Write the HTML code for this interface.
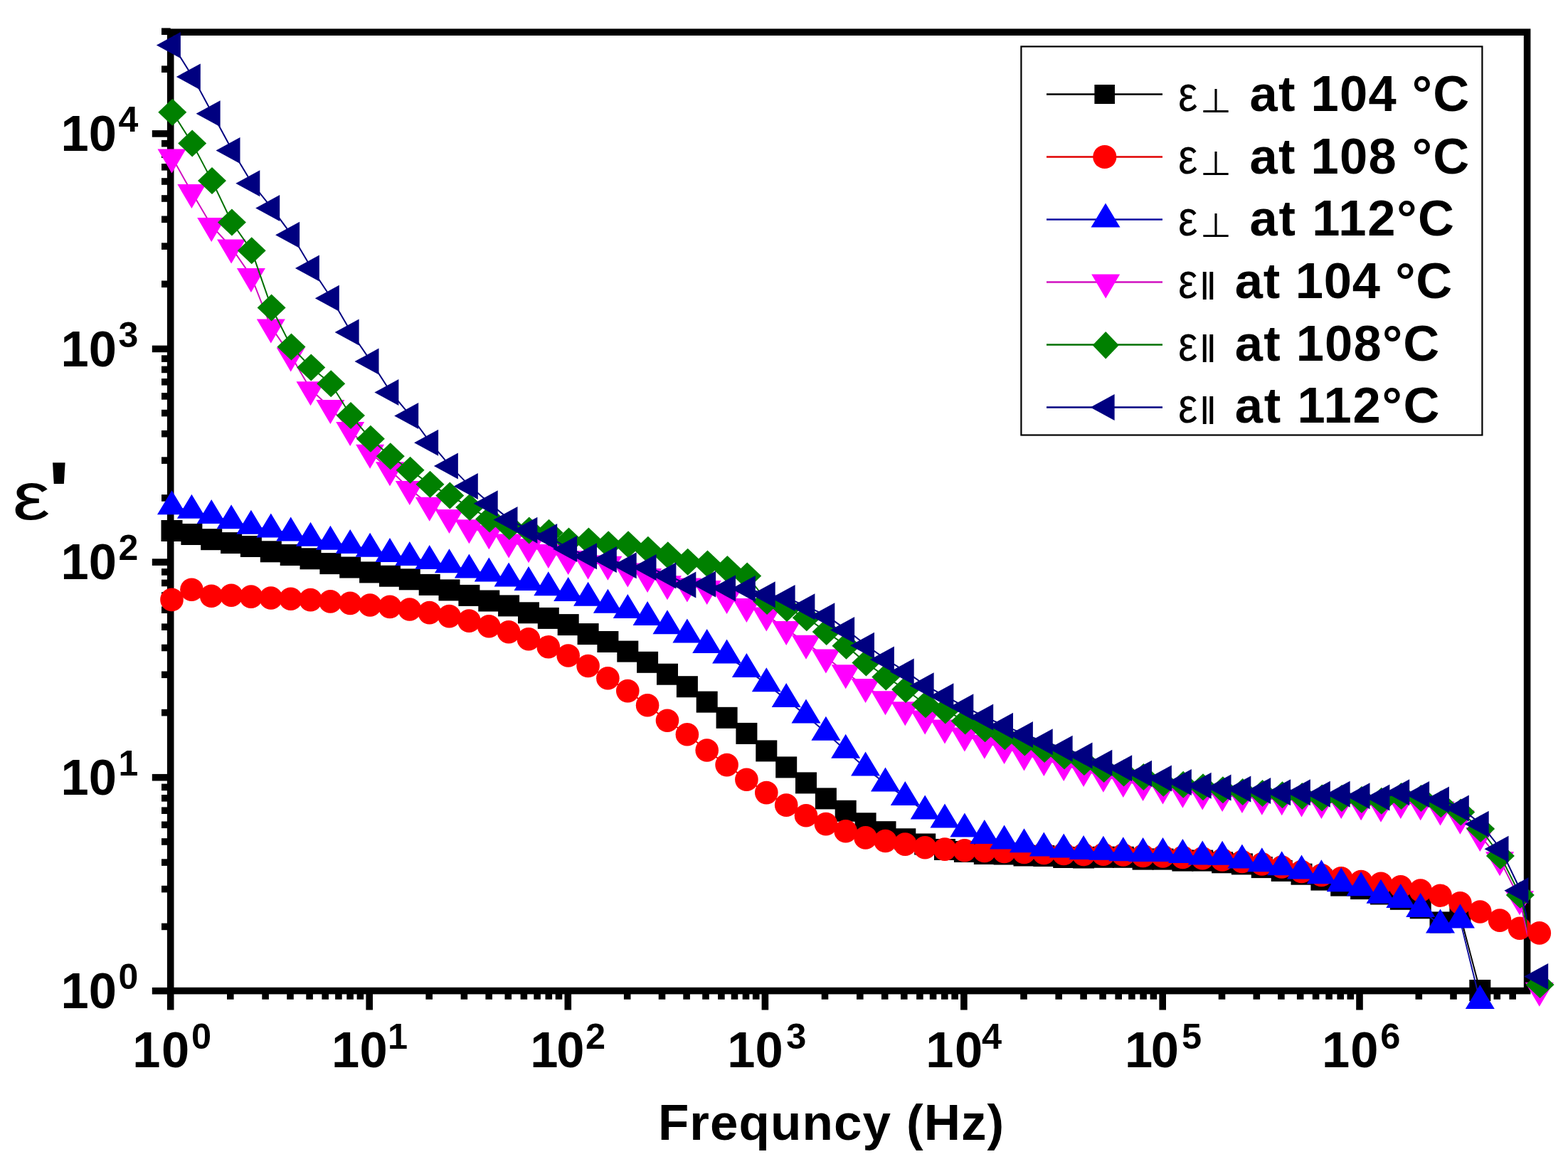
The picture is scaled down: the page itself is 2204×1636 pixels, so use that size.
<!DOCTYPE html><html><head><meta charset="utf-8"><title>Dielectric permittivity vs frequency</title><style>html,body{margin:0;padding:0;background:#fff;}svg{display:block}</style></head><body>
<svg width="2204" height="1636" viewBox="0 0 2204 1636">
<rect x="0" y="0" width="2204" height="1636" fill="#fff"/>
<defs><clipPath id="pc"><rect x="239.7" y="45.2" width="1906.9" height="1347.4"/></clipPath></defs>
<rect x="239.7" y="45.2" width="1906.9" height="1347.4" fill="none" stroke="#000" stroke-width="9.6" stroke-linejoin="miter"/>
<g stroke="#000" stroke-width="9.6" stroke-linecap="butt"><line x1="239.7" y1="1392.7" x2="213.8" y2="1392.7"/><line x1="239.7" y1="1302.4" x2="227" y2="1302.4" /><line x1="239.7" y1="1249.6" x2="227" y2="1249.6" /><line x1="239.7" y1="1212.1" x2="227" y2="1212.1" /><line x1="239.7" y1="1183.0" x2="227" y2="1183.0" /><line x1="239.7" y1="1159.3" x2="227" y2="1159.3" /><line x1="239.7" y1="1139.2" x2="227" y2="1139.2" /><line x1="239.7" y1="1121.8" x2="227" y2="1121.8" /><line x1="239.7" y1="1106.4" x2="227" y2="1106.4" /><line x1="239.7" y1="1092.7" x2="213.8" y2="1092.7"/><line x1="239.7" y1="1001.6" x2="227" y2="1001.6" /><line x1="239.7" y1="948.3" x2="227" y2="948.3" /><line x1="239.7" y1="910.5" x2="227" y2="910.5" /><line x1="239.7" y1="881.2" x2="227" y2="881.2" /><line x1="239.7" y1="857.2" x2="227" y2="857.2" /><line x1="239.7" y1="837.0" x2="227" y2="837.0" /><line x1="239.7" y1="819.4" x2="227" y2="819.4" /><line x1="239.7" y1="803.9" x2="227" y2="803.9" /><line x1="239.7" y1="790.1" x2="213.8" y2="790.1"/><line x1="239.7" y1="699.9" x2="227" y2="699.9" /><line x1="239.7" y1="647.1" x2="227" y2="647.1" /><line x1="239.7" y1="609.7" x2="227" y2="609.7" /><line x1="239.7" y1="580.6" x2="227" y2="580.6" /><line x1="239.7" y1="556.9" x2="227" y2="556.9" /><line x1="239.7" y1="536.8" x2="227" y2="536.8" /><line x1="239.7" y1="519.4" x2="227" y2="519.4" /><line x1="239.7" y1="504.1" x2="227" y2="504.1" /><line x1="239.7" y1="490.4" x2="213.8" y2="490.4"/><line x1="239.7" y1="399.3" x2="227" y2="399.3" /><line x1="239.7" y1="346.1" x2="227" y2="346.1" /><line x1="239.7" y1="308.3" x2="227" y2="308.3" /><line x1="239.7" y1="279.0" x2="227" y2="279.0" /><line x1="239.7" y1="255.0" x2="227" y2="255.0" /><line x1="239.7" y1="234.8" x2="227" y2="234.8" /><line x1="239.7" y1="217.2" x2="227" y2="217.2" /><line x1="239.7" y1="201.7" x2="227" y2="201.7" /><line x1="239.7" y1="187.9" x2="213.8" y2="187.9"/><line x1="239.7" y1="97.2" x2="227" y2="97.2" /><line x1="239.7" y1="44.2" x2="227" y2="44.2" /><line x1="239.7" y1="1392.6" x2="239.7" y2="1419.5"/><line x1="323.8" y1="1392.6" x2="323.8" y2="1404.7"/><line x1="373.1" y1="1392.6" x2="373.1" y2="1404.7"/><line x1="408.0" y1="1392.6" x2="408.0" y2="1404.7"/><line x1="435.1" y1="1392.6" x2="435.1" y2="1404.7"/><line x1="457.2" y1="1392.6" x2="457.2" y2="1404.7"/><line x1="475.9" y1="1392.6" x2="475.9" y2="1404.7"/><line x1="492.1" y1="1392.6" x2="492.1" y2="1404.7"/><line x1="506.4" y1="1392.6" x2="506.4" y2="1404.7"/><line x1="519.2" y1="1392.6" x2="519.2" y2="1419.5"/><line x1="603.2" y1="1392.6" x2="603.2" y2="1404.7"/><line x1="652.4" y1="1392.6" x2="652.4" y2="1404.7"/><line x1="687.2" y1="1392.6" x2="687.2" y2="1404.7"/><line x1="714.3" y1="1392.6" x2="714.3" y2="1404.7"/><line x1="736.4" y1="1392.6" x2="736.4" y2="1404.7"/><line x1="755.1" y1="1392.6" x2="755.1" y2="1404.7"/><line x1="771.3" y1="1392.6" x2="771.3" y2="1404.7"/><line x1="785.5" y1="1392.6" x2="785.5" y2="1404.7"/><line x1="798.3" y1="1392.6" x2="798.3" y2="1419.5"/><line x1="881.7" y1="1392.6" x2="881.7" y2="1404.7"/><line x1="930.5" y1="1392.6" x2="930.5" y2="1404.7"/><line x1="965.1" y1="1392.6" x2="965.1" y2="1404.7"/><line x1="992.0" y1="1392.6" x2="992.0" y2="1404.7"/><line x1="1013.9" y1="1392.6" x2="1013.9" y2="1404.7"/><line x1="1032.5" y1="1392.6" x2="1032.5" y2="1404.7"/><line x1="1048.5" y1="1392.6" x2="1048.5" y2="1404.7"/><line x1="1062.7" y1="1392.6" x2="1062.7" y2="1404.7"/><line x1="1075.4" y1="1392.6" x2="1075.4" y2="1419.5"/><line x1="1159.5" y1="1392.6" x2="1159.5" y2="1404.7"/><line x1="1208.8" y1="1392.6" x2="1208.8" y2="1404.7"/><line x1="1243.7" y1="1392.6" x2="1243.7" y2="1404.7"/><line x1="1270.8" y1="1392.6" x2="1270.8" y2="1404.7"/><line x1="1292.9" y1="1392.6" x2="1292.9" y2="1404.7"/><line x1="1311.6" y1="1392.6" x2="1311.6" y2="1404.7"/><line x1="1327.8" y1="1392.6" x2="1327.8" y2="1404.7"/><line x1="1342.1" y1="1392.6" x2="1342.1" y2="1404.7"/><line x1="1354.9" y1="1392.6" x2="1354.9" y2="1419.5"/><line x1="1439.0" y1="1392.6" x2="1439.0" y2="1404.7"/><line x1="1488.2" y1="1392.6" x2="1488.2" y2="1404.7"/><line x1="1523.1" y1="1392.6" x2="1523.1" y2="1404.7"/><line x1="1550.1" y1="1392.6" x2="1550.1" y2="1404.7"/><line x1="1572.2" y1="1392.6" x2="1572.2" y2="1404.7"/><line x1="1590.9" y1="1392.6" x2="1590.9" y2="1404.7"/><line x1="1607.1" y1="1392.6" x2="1607.1" y2="1404.7"/><line x1="1621.4" y1="1392.6" x2="1621.4" y2="1404.7"/><line x1="1634.2" y1="1392.6" x2="1634.2" y2="1419.5"/><line x1="1717.5" y1="1392.6" x2="1717.5" y2="1404.7"/><line x1="1766.3" y1="1392.6" x2="1766.3" y2="1404.7"/><line x1="1800.9" y1="1392.6" x2="1800.9" y2="1404.7"/><line x1="1827.7" y1="1392.6" x2="1827.7" y2="1404.7"/><line x1="1849.6" y1="1392.6" x2="1849.6" y2="1404.7"/><line x1="1868.1" y1="1392.6" x2="1868.1" y2="1404.7"/><line x1="1884.2" y1="1392.6" x2="1884.2" y2="1404.7"/><line x1="1898.3" y1="1392.6" x2="1898.3" y2="1404.7"/><line x1="1911.0" y1="1392.6" x2="1911.0" y2="1419.5"/><line x1="1994.3" y1="1392.6" x2="1994.3" y2="1404.7"/><line x1="2043.0" y1="1392.6" x2="2043.0" y2="1404.7"/><line x1="2077.5" y1="1392.6" x2="2077.5" y2="1404.7"/><line x1="2104.3" y1="1392.6" x2="2104.3" y2="1404.7"/><line x1="2126.2" y1="1392.6" x2="2126.2" y2="1404.7"/></g>
<polyline clip-path="url(#pc)" fill="none" stroke="#000000" stroke-width="2.0" points="241.5,746.0 269.4,751.0 297.2,758.2 325.1,763.1 352.9,768.0 380.8,775.3 408.7,780.0 436.5,785.3 464.4,792.1 492.2,797.5 520.1,804.4 548.0,809.7 575.8,814.3 603.7,821.9 631.5,829.4 659.4,836.9 687.3,844.5 715.1,851.4 743.0,861.3 770.8,868.9 798.7,878.1 826.6,891.1 854.4,902.0 882.3,915.6 910.1,930.8 938.0,947.7 965.9,965.2 993.7,986.6 1021.6,1008.8 1049.4,1030.9 1077.3,1055.4 1105.2,1078.4 1133.0,1100.4 1160.9,1122.4 1188.7,1139.8 1216.6,1157.3 1244.5,1169.2 1272.3,1179.3 1300.2,1186.5 1328.0,1194.0 1355.9,1197.0 1383.8,1200.0 1411.6,1200.5 1439.5,1202.5 1467.3,1203.0 1495.2,1205.0 1523.1,1205.5 1550.9,1204.8 1578.8,1204.8 1606.6,1207.6 1634.5,1207.6 1662.4,1209.6 1690.2,1209.6 1718.1,1212.3 1745.9,1214.4 1773.8,1219.1 1801.7,1223.9 1829.5,1228.7 1857.4,1236.6 1885.2,1244.6 1913.1,1249.1 1941.0,1256.5 1968.8,1263.8 1996.7,1276.3 2024.5,1296.4 2052.4,1286.0 2080.3,1392.0"/>
<g><rect x="226.5" y="731.0" width="30" height="30" fill="#000000"/><rect x="254.4" y="736.0" width="30" height="30" fill="#000000"/><rect x="282.2" y="743.2" width="30" height="30" fill="#000000"/><rect x="310.1" y="748.1" width="30" height="30" fill="#000000"/><rect x="337.9" y="753.0" width="30" height="30" fill="#000000"/><rect x="365.8" y="760.3" width="30" height="30" fill="#000000"/><rect x="393.7" y="765.0" width="30" height="30" fill="#000000"/><rect x="421.5" y="770.3" width="30" height="30" fill="#000000"/><rect x="449.4" y="777.1" width="30" height="30" fill="#000000"/><rect x="477.2" y="782.5" width="30" height="30" fill="#000000"/><rect x="505.1" y="789.4" width="30" height="30" fill="#000000"/><rect x="533.0" y="794.7" width="30" height="30" fill="#000000"/><rect x="560.8" y="799.3" width="30" height="30" fill="#000000"/><rect x="588.7" y="806.9" width="30" height="30" fill="#000000"/><rect x="616.5" y="814.4" width="30" height="30" fill="#000000"/><rect x="644.4" y="821.9" width="30" height="30" fill="#000000"/><rect x="672.3" y="829.5" width="30" height="30" fill="#000000"/><rect x="700.1" y="836.4" width="30" height="30" fill="#000000"/><rect x="728.0" y="846.3" width="30" height="30" fill="#000000"/><rect x="755.8" y="853.9" width="30" height="30" fill="#000000"/><rect x="783.7" y="863.1" width="30" height="30" fill="#000000"/><rect x="811.6" y="876.1" width="30" height="30" fill="#000000"/><rect x="839.4" y="887.0" width="30" height="30" fill="#000000"/><rect x="867.3" y="900.6" width="30" height="30" fill="#000000"/><rect x="895.1" y="915.8" width="30" height="30" fill="#000000"/><rect x="923.0" y="932.7" width="30" height="30" fill="#000000"/><rect x="950.9" y="950.2" width="30" height="30" fill="#000000"/><rect x="978.7" y="971.6" width="30" height="30" fill="#000000"/><rect x="1006.6" y="993.8" width="30" height="30" fill="#000000"/><rect x="1034.4" y="1015.9" width="30" height="30" fill="#000000"/><rect x="1062.3" y="1040.4" width="30" height="30" fill="#000000"/><rect x="1090.2" y="1063.4" width="30" height="30" fill="#000000"/><rect x="1118.0" y="1085.4" width="30" height="30" fill="#000000"/><rect x="1145.9" y="1107.4" width="30" height="30" fill="#000000"/><rect x="1173.7" y="1124.8" width="30" height="30" fill="#000000"/><rect x="1201.6" y="1142.3" width="30" height="30" fill="#000000"/><rect x="1229.5" y="1154.2" width="30" height="30" fill="#000000"/><rect x="1257.3" y="1164.3" width="30" height="30" fill="#000000"/><rect x="1285.2" y="1171.5" width="30" height="30" fill="#000000"/><rect x="1313.0" y="1179.0" width="30" height="30" fill="#000000"/><rect x="1340.9" y="1182.0" width="30" height="30" fill="#000000"/><rect x="1368.8" y="1185.0" width="30" height="30" fill="#000000"/><rect x="1396.6" y="1185.5" width="30" height="30" fill="#000000"/><rect x="1424.5" y="1187.5" width="30" height="30" fill="#000000"/><rect x="1452.3" y="1188.0" width="30" height="30" fill="#000000"/><rect x="1480.2" y="1190.0" width="30" height="30" fill="#000000"/><rect x="1508.1" y="1190.5" width="30" height="30" fill="#000000"/><rect x="1535.9" y="1189.8" width="30" height="30" fill="#000000"/><rect x="1563.8" y="1189.8" width="30" height="30" fill="#000000"/><rect x="1591.6" y="1192.6" width="30" height="30" fill="#000000"/><rect x="1619.5" y="1192.6" width="30" height="30" fill="#000000"/><rect x="1647.4" y="1194.6" width="30" height="30" fill="#000000"/><rect x="1675.2" y="1194.6" width="30" height="30" fill="#000000"/><rect x="1703.1" y="1197.3" width="30" height="30" fill="#000000"/><rect x="1730.9" y="1199.4" width="30" height="30" fill="#000000"/><rect x="1758.8" y="1204.1" width="30" height="30" fill="#000000"/><rect x="1786.7" y="1208.9" width="30" height="30" fill="#000000"/><rect x="1814.5" y="1213.7" width="30" height="30" fill="#000000"/><rect x="1842.4" y="1221.6" width="30" height="30" fill="#000000"/><rect x="1870.2" y="1229.6" width="30" height="30" fill="#000000"/><rect x="1898.1" y="1234.1" width="30" height="30" fill="#000000"/><rect x="1926.0" y="1241.5" width="30" height="30" fill="#000000"/><rect x="1953.8" y="1248.8" width="30" height="30" fill="#000000"/><rect x="1981.7" y="1261.3" width="30" height="30" fill="#000000"/><rect x="2009.5" y="1281.4" width="30" height="30" fill="#000000"/><rect x="2037.4" y="1271.0" width="30" height="30" fill="#000000"/><rect x="2065.3" y="1377.0" width="30" height="30" fill="#000000"/></g>
<polyline clip-path="url(#pc)" fill="none" stroke="#e00000" stroke-width="2.0" points="241.5,842.9 269.4,828.8 297.2,837.7 325.1,836.8 352.9,838.6 380.8,840.5 408.7,841.8 436.5,843.1 464.4,845.4 492.2,847.9 520.1,850.5 548.0,852.9 575.8,856.5 603.7,861.1 631.5,866.1 659.4,872.6 687.3,880.2 715.1,888.2 743.0,898.2 770.8,909.2 798.7,921.5 826.6,936.0 854.4,953.3 882.3,971.1 910.1,991.3 938.0,1012.7 965.9,1032.3 993.7,1054.5 1021.6,1075.1 1049.4,1095.8 1077.3,1114.1 1105.2,1131.6 1133.0,1146.3 1160.9,1158.1 1188.7,1168.2 1216.6,1177.4 1244.5,1182.0 1272.3,1186.6 1300.2,1191.2 1328.0,1193.6 1355.9,1195.2 1383.8,1196.0 1411.6,1197.0 1439.5,1198.0 1467.3,1199.0 1495.2,1200.0 1523.1,1201.0 1550.9,1200.8 1578.8,1201.5 1606.6,1202.9 1634.5,1203.5 1662.4,1204.9 1690.2,1206.3 1718.1,1208.4 1745.9,1211.0 1773.8,1214.4 1801.7,1218.5 1829.5,1225.0 1857.4,1230.0 1885.2,1234.4 1913.1,1239.0 1941.0,1241.8 1968.8,1246.3 1996.7,1251.6 2024.5,1258.7 2052.4,1269.2 2080.3,1281.5 2108.1,1293.6 2136.0,1304.7 2163.8,1311.4"/>
<g><circle cx="241.5" cy="842.9" r="16.3" fill="#ff0000"/><circle cx="269.4" cy="828.8" r="16.3" fill="#ff0000"/><circle cx="297.2" cy="837.7" r="16.3" fill="#ff0000"/><circle cx="325.1" cy="836.8" r="16.3" fill="#ff0000"/><circle cx="352.9" cy="838.6" r="16.3" fill="#ff0000"/><circle cx="380.8" cy="840.5" r="16.3" fill="#ff0000"/><circle cx="408.7" cy="841.8" r="16.3" fill="#ff0000"/><circle cx="436.5" cy="843.1" r="16.3" fill="#ff0000"/><circle cx="464.4" cy="845.4" r="16.3" fill="#ff0000"/><circle cx="492.2" cy="847.9" r="16.3" fill="#ff0000"/><circle cx="520.1" cy="850.5" r="16.3" fill="#ff0000"/><circle cx="548.0" cy="852.9" r="16.3" fill="#ff0000"/><circle cx="575.8" cy="856.5" r="16.3" fill="#ff0000"/><circle cx="603.7" cy="861.1" r="16.3" fill="#ff0000"/><circle cx="631.5" cy="866.1" r="16.3" fill="#ff0000"/><circle cx="659.4" cy="872.6" r="16.3" fill="#ff0000"/><circle cx="687.3" cy="880.2" r="16.3" fill="#ff0000"/><circle cx="715.1" cy="888.2" r="16.3" fill="#ff0000"/><circle cx="743.0" cy="898.2" r="16.3" fill="#ff0000"/><circle cx="770.8" cy="909.2" r="16.3" fill="#ff0000"/><circle cx="798.7" cy="921.5" r="16.3" fill="#ff0000"/><circle cx="826.6" cy="936.0" r="16.3" fill="#ff0000"/><circle cx="854.4" cy="953.3" r="16.3" fill="#ff0000"/><circle cx="882.3" cy="971.1" r="16.3" fill="#ff0000"/><circle cx="910.1" cy="991.3" r="16.3" fill="#ff0000"/><circle cx="938.0" cy="1012.7" r="16.3" fill="#ff0000"/><circle cx="965.9" cy="1032.3" r="16.3" fill="#ff0000"/><circle cx="993.7" cy="1054.5" r="16.3" fill="#ff0000"/><circle cx="1021.6" cy="1075.1" r="16.3" fill="#ff0000"/><circle cx="1049.4" cy="1095.8" r="16.3" fill="#ff0000"/><circle cx="1077.3" cy="1114.1" r="16.3" fill="#ff0000"/><circle cx="1105.2" cy="1131.6" r="16.3" fill="#ff0000"/><circle cx="1133.0" cy="1146.3" r="16.3" fill="#ff0000"/><circle cx="1160.9" cy="1158.1" r="16.3" fill="#ff0000"/><circle cx="1188.7" cy="1168.2" r="16.3" fill="#ff0000"/><circle cx="1216.6" cy="1177.4" r="16.3" fill="#ff0000"/><circle cx="1244.5" cy="1182.0" r="16.3" fill="#ff0000"/><circle cx="1272.3" cy="1186.6" r="16.3" fill="#ff0000"/><circle cx="1300.2" cy="1191.2" r="16.3" fill="#ff0000"/><circle cx="1328.0" cy="1193.6" r="16.3" fill="#ff0000"/><circle cx="1355.9" cy="1195.2" r="16.3" fill="#ff0000"/><circle cx="1383.8" cy="1196.0" r="16.3" fill="#ff0000"/><circle cx="1411.6" cy="1197.0" r="16.3" fill="#ff0000"/><circle cx="1439.5" cy="1198.0" r="16.3" fill="#ff0000"/><circle cx="1467.3" cy="1199.0" r="16.3" fill="#ff0000"/><circle cx="1495.2" cy="1200.0" r="16.3" fill="#ff0000"/><circle cx="1523.1" cy="1201.0" r="16.3" fill="#ff0000"/><circle cx="1550.9" cy="1200.8" r="16.3" fill="#ff0000"/><circle cx="1578.8" cy="1201.5" r="16.3" fill="#ff0000"/><circle cx="1606.6" cy="1202.9" r="16.3" fill="#ff0000"/><circle cx="1634.5" cy="1203.5" r="16.3" fill="#ff0000"/><circle cx="1662.4" cy="1204.9" r="16.3" fill="#ff0000"/><circle cx="1690.2" cy="1206.3" r="16.3" fill="#ff0000"/><circle cx="1718.1" cy="1208.4" r="16.3" fill="#ff0000"/><circle cx="1745.9" cy="1211.0" r="16.3" fill="#ff0000"/><circle cx="1773.8" cy="1214.4" r="16.3" fill="#ff0000"/><circle cx="1801.7" cy="1218.5" r="16.3" fill="#ff0000"/><circle cx="1829.5" cy="1225.0" r="16.3" fill="#ff0000"/><circle cx="1857.4" cy="1230.0" r="16.3" fill="#ff0000"/><circle cx="1885.2" cy="1234.4" r="16.3" fill="#ff0000"/><circle cx="1913.1" cy="1239.0" r="16.3" fill="#ff0000"/><circle cx="1941.0" cy="1241.8" r="16.3" fill="#ff0000"/><circle cx="1968.8" cy="1246.3" r="16.3" fill="#ff0000"/><circle cx="1996.7" cy="1251.6" r="16.3" fill="#ff0000"/><circle cx="2024.5" cy="1258.7" r="16.3" fill="#ff0000"/><circle cx="2052.4" cy="1269.2" r="16.3" fill="#ff0000"/><circle cx="2080.3" cy="1281.5" r="16.3" fill="#ff0000"/><circle cx="2108.1" cy="1293.6" r="16.3" fill="#ff0000"/><circle cx="2136.0" cy="1304.7" r="16.3" fill="#ff0000"/><circle cx="2163.8" cy="1311.4" r="16.3" fill="#ff0000"/></g>
<polyline clip-path="url(#pc)" fill="none" stroke="#1010a0" stroke-width="2.0" points="241.5,712.2 269.4,717.7 297.2,725.0 325.1,732.3 352.9,739.7 380.8,744.6 408.7,749.5 436.5,756.8 464.4,761.8 492.2,766.9 520.1,771.8 548.0,779.0 575.8,784.0 603.7,788.9 631.5,794.2 659.4,801.4 687.3,806.5 715.1,813.6 743.0,819.1 770.8,826.2 798.7,834.0 826.6,840.8 854.4,850.7 882.3,858.1 910.1,868.1 938.0,880.3 965.9,892.5 993.7,907.0 1021.6,921.6 1049.4,941.1 1077.3,961.3 1105.2,983.1 1133.0,1005.5 1160.9,1029.8 1188.7,1054.7 1216.6,1079.4 1244.5,1101.4 1272.3,1121.0 1300.2,1140.4 1328.0,1152.6 1355.9,1165.6 1383.8,1175.1 1411.6,1182.6 1439.5,1187.3 1467.3,1192.5 1495.2,1194.4 1523.1,1197.1 1550.9,1197.7 1578.8,1199.3 1606.6,1200.0 1634.5,1200.0 1662.4,1202.0 1690.2,1204.4 1718.1,1204.7 1745.9,1209.5 1773.8,1214.3 1801.7,1219.2 1829.5,1224.5 1857.4,1231.3 1885.2,1242.2 1913.1,1248.3 1941.0,1258.7 1968.8,1265.1 1996.7,1278.0 2024.5,1300.4 2052.4,1293.6 2080.3,1407.0"/>
<g><polygon points="241.5,689.2 262.0,723.2 221.0,723.2" fill="#0000ff"/><polygon points="269.4,694.7 289.9,728.7 248.9,728.7" fill="#0000ff"/><polygon points="297.2,702.0 317.7,736.0 276.7,736.0" fill="#0000ff"/><polygon points="325.1,709.3 345.6,743.3 304.6,743.3" fill="#0000ff"/><polygon points="352.9,716.7 373.4,750.7 332.4,750.7" fill="#0000ff"/><polygon points="380.8,721.6 401.3,755.6 360.3,755.6" fill="#0000ff"/><polygon points="408.7,726.5 429.2,760.5 388.2,760.5" fill="#0000ff"/><polygon points="436.5,733.8 457.0,767.8 416.0,767.8" fill="#0000ff"/><polygon points="464.4,738.8 484.9,772.8 443.9,772.8" fill="#0000ff"/><polygon points="492.2,743.9 512.7,777.9 471.7,777.9" fill="#0000ff"/><polygon points="520.1,748.8 540.6,782.8 499.6,782.8" fill="#0000ff"/><polygon points="548.0,756.0 568.5,790.0 527.5,790.0" fill="#0000ff"/><polygon points="575.8,761.0 596.3,795.0 555.3,795.0" fill="#0000ff"/><polygon points="603.7,765.9 624.2,799.9 583.2,799.9" fill="#0000ff"/><polygon points="631.5,771.2 652.0,805.2 611.0,805.2" fill="#0000ff"/><polygon points="659.4,778.4 679.9,812.4 638.9,812.4" fill="#0000ff"/><polygon points="687.3,783.5 707.8,817.5 666.8,817.5" fill="#0000ff"/><polygon points="715.1,790.6 735.6,824.6 694.6,824.6" fill="#0000ff"/><polygon points="743.0,796.1 763.5,830.1 722.5,830.1" fill="#0000ff"/><polygon points="770.8,803.2 791.3,837.2 750.3,837.2" fill="#0000ff"/><polygon points="798.7,811.0 819.2,845.0 778.2,845.0" fill="#0000ff"/><polygon points="826.6,817.8 847.1,851.8 806.1,851.8" fill="#0000ff"/><polygon points="854.4,827.7 874.9,861.7 833.9,861.7" fill="#0000ff"/><polygon points="882.3,835.1 902.8,869.1 861.8,869.1" fill="#0000ff"/><polygon points="910.1,845.1 930.6,879.1 889.6,879.1" fill="#0000ff"/><polygon points="938.0,857.3 958.5,891.3 917.5,891.3" fill="#0000ff"/><polygon points="965.9,869.5 986.4,903.5 945.4,903.5" fill="#0000ff"/><polygon points="993.7,884.0 1014.2,918.0 973.2,918.0" fill="#0000ff"/><polygon points="1021.6,898.6 1042.1,932.6 1001.1,932.6" fill="#0000ff"/><polygon points="1049.4,918.1 1069.9,952.1 1028.9,952.1" fill="#0000ff"/><polygon points="1077.3,938.3 1097.8,972.3 1056.8,972.3" fill="#0000ff"/><polygon points="1105.2,960.1 1125.7,994.1 1084.7,994.1" fill="#0000ff"/><polygon points="1133.0,982.5 1153.5,1016.5 1112.5,1016.5" fill="#0000ff"/><polygon points="1160.9,1006.8 1181.4,1040.8 1140.4,1040.8" fill="#0000ff"/><polygon points="1188.7,1031.7 1209.2,1065.7 1168.2,1065.7" fill="#0000ff"/><polygon points="1216.6,1056.4 1237.1,1090.4 1196.1,1090.4" fill="#0000ff"/><polygon points="1244.5,1078.4 1265.0,1112.4 1224.0,1112.4" fill="#0000ff"/><polygon points="1272.3,1098.0 1292.8,1132.0 1251.8,1132.0" fill="#0000ff"/><polygon points="1300.2,1117.4 1320.7,1151.4 1279.7,1151.4" fill="#0000ff"/><polygon points="1328.0,1129.6 1348.5,1163.6 1307.5,1163.6" fill="#0000ff"/><polygon points="1355.9,1142.6 1376.4,1176.6 1335.4,1176.6" fill="#0000ff"/><polygon points="1383.8,1152.1 1404.3,1186.1 1363.3,1186.1" fill="#0000ff"/><polygon points="1411.6,1159.6 1432.1,1193.6 1391.1,1193.6" fill="#0000ff"/><polygon points="1439.5,1164.3 1460.0,1198.3 1419.0,1198.3" fill="#0000ff"/><polygon points="1467.3,1169.5 1487.8,1203.5 1446.8,1203.5" fill="#0000ff"/><polygon points="1495.2,1171.4 1515.7,1205.4 1474.7,1205.4" fill="#0000ff"/><polygon points="1523.1,1174.1 1543.6,1208.1 1502.6,1208.1" fill="#0000ff"/><polygon points="1550.9,1174.7 1571.4,1208.7 1530.4,1208.7" fill="#0000ff"/><polygon points="1578.8,1176.3 1599.3,1210.3 1558.3,1210.3" fill="#0000ff"/><polygon points="1606.6,1177.0 1627.1,1211.0 1586.1,1211.0" fill="#0000ff"/><polygon points="1634.5,1177.0 1655.0,1211.0 1614.0,1211.0" fill="#0000ff"/><polygon points="1662.4,1179.0 1682.9,1213.0 1641.9,1213.0" fill="#0000ff"/><polygon points="1690.2,1181.4 1710.7,1215.4 1669.7,1215.4" fill="#0000ff"/><polygon points="1718.1,1181.7 1738.6,1215.7 1697.6,1215.7" fill="#0000ff"/><polygon points="1745.9,1186.5 1766.4,1220.5 1725.4,1220.5" fill="#0000ff"/><polygon points="1773.8,1191.3 1794.3,1225.3 1753.3,1225.3" fill="#0000ff"/><polygon points="1801.7,1196.2 1822.2,1230.2 1781.2,1230.2" fill="#0000ff"/><polygon points="1829.5,1201.5 1850.0,1235.5 1809.0,1235.5" fill="#0000ff"/><polygon points="1857.4,1208.3 1877.9,1242.3 1836.9,1242.3" fill="#0000ff"/><polygon points="1885.2,1219.2 1905.7,1253.2 1864.7,1253.2" fill="#0000ff"/><polygon points="1913.1,1225.3 1933.6,1259.3 1892.6,1259.3" fill="#0000ff"/><polygon points="1941.0,1235.7 1961.5,1269.7 1920.5,1269.7" fill="#0000ff"/><polygon points="1968.8,1242.1 1989.3,1276.1 1948.3,1276.1" fill="#0000ff"/><polygon points="1996.7,1255.0 2017.2,1289.0 1976.2,1289.0" fill="#0000ff"/><polygon points="2024.5,1277.4 2045.0,1311.4 2004.0,1311.4" fill="#0000ff"/><polygon points="2052.4,1270.6 2072.9,1304.6 2031.9,1304.6" fill="#0000ff"/><polygon points="2080.3,1384.0 2100.8,1418.0 2059.8,1418.0" fill="#0000ff"/></g>
<polyline clip-path="url(#pc)" fill="none" stroke="#d010c0" stroke-width="2.0" points="241.5,220.6 269.4,270.1 297.2,316.9 325.1,347.6 352.9,387.9 380.8,459.4 408.7,499.4 436.5,547.2 464.4,573.0 492.2,604.0 520.1,635.8 548.0,660.2 575.8,687.1 603.7,709.7 631.5,726.9 659.4,741.3 687.3,749.3 715.1,761.5 743.0,768.2 770.8,775.9 798.7,785.0 826.6,791.6 854.4,792.8 882.3,802.5 910.1,810.1 938.0,820.2 965.9,823.4 993.7,827.0 1021.6,840.0 1049.4,852.0 1077.3,864.6 1105.2,884.1 1133.0,903.8 1160.9,923.5 1188.7,945.3 1216.6,965.0 1244.5,982.2 1272.3,997.2 1300.2,1009.4 1328.0,1022.4 1355.9,1033.5 1383.8,1043.7 1411.6,1050.9 1439.5,1060.4 1467.3,1067.9 1495.2,1075.0 1523.1,1083.0 1550.9,1090.7 1578.8,1098.1 1606.6,1102.9 1634.5,1107.6 1662.4,1112.8 1690.2,1115.5 1718.1,1117.9 1745.9,1119.9 1773.8,1122.8 1801.7,1123.2 1829.5,1125.4 1857.4,1127.9 1885.2,1127.9 1913.1,1130.3 1941.0,1132.8 1968.8,1127.9 1996.7,1130.3 2024.5,1137.6 2052.4,1149.7 2080.3,1173.9 2108.1,1208.2 2136.0,1263.3 2163.8,1391.7"/>
<g><polygon points="221.5,209.6 261.5,209.6 241.5,243.6" fill="#ff00ff"/><polygon points="249.4,259.1 289.4,259.1 269.4,293.1" fill="#ff00ff"/><polygon points="277.2,305.9 317.2,305.9 297.2,339.9" fill="#ff00ff"/><polygon points="305.1,336.6 345.1,336.6 325.1,370.6" fill="#ff00ff"/><polygon points="332.9,376.9 372.9,376.9 352.9,410.9" fill="#ff00ff"/><polygon points="360.8,448.4 400.8,448.4 380.8,482.4" fill="#ff00ff"/><polygon points="388.7,488.4 428.7,488.4 408.7,522.4" fill="#ff00ff"/><polygon points="416.5,536.2 456.5,536.2 436.5,570.2" fill="#ff00ff"/><polygon points="444.4,562.0 484.4,562.0 464.4,596.0" fill="#ff00ff"/><polygon points="472.2,593.0 512.2,593.0 492.2,627.0" fill="#ff00ff"/><polygon points="500.1,624.8 540.1,624.8 520.1,658.8" fill="#ff00ff"/><polygon points="528.0,649.2 568.0,649.2 548.0,683.2" fill="#ff00ff"/><polygon points="555.8,676.1 595.8,676.1 575.8,710.1" fill="#ff00ff"/><polygon points="583.7,698.7 623.7,698.7 603.7,732.7" fill="#ff00ff"/><polygon points="611.5,715.9 651.5,715.9 631.5,749.9" fill="#ff00ff"/><polygon points="639.4,730.3 679.4,730.3 659.4,764.3" fill="#ff00ff"/><polygon points="667.3,738.3 707.3,738.3 687.3,772.3" fill="#ff00ff"/><polygon points="695.1,750.5 735.1,750.5 715.1,784.5" fill="#ff00ff"/><polygon points="723.0,757.2 763.0,757.2 743.0,791.2" fill="#ff00ff"/><polygon points="750.8,764.9 790.8,764.9 770.8,798.9" fill="#ff00ff"/><polygon points="778.7,774.0 818.7,774.0 798.7,808.0" fill="#ff00ff"/><polygon points="806.6,780.6 846.6,780.6 826.6,814.6" fill="#ff00ff"/><polygon points="834.4,781.8 874.4,781.8 854.4,815.8" fill="#ff00ff"/><polygon points="862.3,791.5 902.3,791.5 882.3,825.5" fill="#ff00ff"/><polygon points="890.1,799.1 930.1,799.1 910.1,833.1" fill="#ff00ff"/><polygon points="918.0,809.2 958.0,809.2 938.0,843.2" fill="#ff00ff"/><polygon points="945.9,812.4 985.9,812.4 965.9,846.4" fill="#ff00ff"/><polygon points="973.7,816.0 1013.7,816.0 993.7,850.0" fill="#ff00ff"/><polygon points="1001.6,829.0 1041.6,829.0 1021.6,863.0" fill="#ff00ff"/><polygon points="1029.4,841.0 1069.4,841.0 1049.4,875.0" fill="#ff00ff"/><polygon points="1057.3,853.6 1097.3,853.6 1077.3,887.6" fill="#ff00ff"/><polygon points="1085.2,873.1 1125.2,873.1 1105.2,907.1" fill="#ff00ff"/><polygon points="1113.0,892.8 1153.0,892.8 1133.0,926.8" fill="#ff00ff"/><polygon points="1140.9,912.5 1180.9,912.5 1160.9,946.5" fill="#ff00ff"/><polygon points="1168.7,934.3 1208.7,934.3 1188.7,968.3" fill="#ff00ff"/><polygon points="1196.6,954.0 1236.6,954.0 1216.6,988.0" fill="#ff00ff"/><polygon points="1224.5,971.2 1264.5,971.2 1244.5,1005.2" fill="#ff00ff"/><polygon points="1252.3,986.2 1292.3,986.2 1272.3,1020.2" fill="#ff00ff"/><polygon points="1280.2,998.4 1320.2,998.4 1300.2,1032.4" fill="#ff00ff"/><polygon points="1308.0,1011.4 1348.0,1011.4 1328.0,1045.4" fill="#ff00ff"/><polygon points="1335.9,1022.5 1375.9,1022.5 1355.9,1056.5" fill="#ff00ff"/><polygon points="1363.8,1032.7 1403.8,1032.7 1383.8,1066.7" fill="#ff00ff"/><polygon points="1391.6,1039.9 1431.6,1039.9 1411.6,1073.9" fill="#ff00ff"/><polygon points="1419.5,1049.4 1459.5,1049.4 1439.5,1083.4" fill="#ff00ff"/><polygon points="1447.3,1056.9 1487.3,1056.9 1467.3,1090.9" fill="#ff00ff"/><polygon points="1475.2,1064.0 1515.2,1064.0 1495.2,1098.0" fill="#ff00ff"/><polygon points="1503.1,1072.0 1543.1,1072.0 1523.1,1106.0" fill="#ff00ff"/><polygon points="1530.9,1079.7 1570.9,1079.7 1550.9,1113.7" fill="#ff00ff"/><polygon points="1558.8,1087.1 1598.8,1087.1 1578.8,1121.1" fill="#ff00ff"/><polygon points="1586.6,1091.9 1626.6,1091.9 1606.6,1125.9" fill="#ff00ff"/><polygon points="1614.5,1096.6 1654.5,1096.6 1634.5,1130.6" fill="#ff00ff"/><polygon points="1642.4,1101.8 1682.4,1101.8 1662.4,1135.8" fill="#ff00ff"/><polygon points="1670.2,1104.5 1710.2,1104.5 1690.2,1138.5" fill="#ff00ff"/><polygon points="1698.1,1106.9 1738.1,1106.9 1718.1,1140.9" fill="#ff00ff"/><polygon points="1725.9,1108.9 1765.9,1108.9 1745.9,1142.9" fill="#ff00ff"/><polygon points="1753.8,1111.8 1793.8,1111.8 1773.8,1145.8" fill="#ff00ff"/><polygon points="1781.7,1112.2 1821.7,1112.2 1801.7,1146.2" fill="#ff00ff"/><polygon points="1809.5,1114.4 1849.5,1114.4 1829.5,1148.4" fill="#ff00ff"/><polygon points="1837.4,1116.9 1877.4,1116.9 1857.4,1150.9" fill="#ff00ff"/><polygon points="1865.2,1116.9 1905.2,1116.9 1885.2,1150.9" fill="#ff00ff"/><polygon points="1893.1,1119.3 1933.1,1119.3 1913.1,1153.3" fill="#ff00ff"/><polygon points="1921.0,1121.8 1961.0,1121.8 1941.0,1155.8" fill="#ff00ff"/><polygon points="1948.8,1116.9 1988.8,1116.9 1968.8,1150.9" fill="#ff00ff"/><polygon points="1976.7,1119.3 2016.7,1119.3 1996.7,1153.3" fill="#ff00ff"/><polygon points="2004.5,1126.6 2044.5,1126.6 2024.5,1160.6" fill="#ff00ff"/><polygon points="2032.4,1138.7 2072.4,1138.7 2052.4,1172.7" fill="#ff00ff"/><polygon points="2060.3,1162.9 2100.3,1162.9 2080.3,1196.9" fill="#ff00ff"/><polygon points="2088.1,1197.2 2128.1,1197.2 2108.1,1231.2" fill="#ff00ff"/><polygon points="2116.0,1252.3 2156.0,1252.3 2136.0,1286.3" fill="#ff00ff"/><polygon points="2143.8,1380.7 2183.8,1380.7 2163.8,1414.7" fill="#ff00ff"/></g>
<polyline clip-path="url(#pc)" fill="none" stroke="#007000" stroke-width="2.0" points="242.3,157.8 270.2,201.4 298.0,254.1 325.9,312.5 353.7,352.3 381.6,432.4 409.5,487.4 437.3,516.4 465.2,539.3 493.0,584.0 520.9,616.8 548.8,641.2 576.6,660.8 604.5,680.8 632.3,696.4 660.2,712.9 688.1,729.4 715.9,740.0 743.8,745.6 771.6,748.7 799.5,760.5 827.4,760.5 855.2,765.3 883.1,765.3 910.9,772.8 938.8,780.3 966.7,789.8 994.5,792.5 1022.4,800.0 1050.2,809.5 1078.1,845.0 1106.0,855.0 1133.8,868.3 1161.7,888.1 1189.5,907.8 1217.4,931.6 1245.3,951.5 1273.1,969.0 1301.0,990.2 1328.8,998.5 1356.7,1013.4 1384.6,1024.3 1412.4,1035.2 1440.3,1043.4 1468.1,1052.9 1496.0,1062.4 1523.9,1071.0 1551.7,1081.0 1579.6,1086.5 1607.4,1091.9 1635.3,1100.8 1663.2,1102.8 1691.0,1106.2 1718.9,1110.3 1746.7,1113.0 1774.6,1115.0 1802.5,1117.2 1830.3,1119.1 1858.2,1121.5 1886.0,1122.1 1913.9,1124.0 1941.8,1125.8 1969.6,1119.1 1997.5,1122.1 2025.3,1130.2 2053.2,1141.6 2081.1,1165.0 2108.9,1203.0 2136.8,1258.0 2164.6,1384.0"/>
<g><polygon points="242.3,138.8 262.3,157.8 242.3,176.8 222.3,157.8" fill="#008000"/><polygon points="270.2,182.4 290.2,201.4 270.2,220.4 250.2,201.4" fill="#008000"/><polygon points="298.0,235.1 318.0,254.1 298.0,273.1 278.0,254.1" fill="#008000"/><polygon points="325.9,293.5 345.9,312.5 325.9,331.5 305.9,312.5" fill="#008000"/><polygon points="353.7,333.3 373.7,352.3 353.7,371.3 333.7,352.3" fill="#008000"/><polygon points="381.6,413.4 401.6,432.4 381.6,451.4 361.6,432.4" fill="#008000"/><polygon points="409.5,468.4 429.5,487.4 409.5,506.4 389.5,487.4" fill="#008000"/><polygon points="437.3,497.4 457.3,516.4 437.3,535.4 417.3,516.4" fill="#008000"/><polygon points="465.2,520.3 485.2,539.3 465.2,558.3 445.2,539.3" fill="#008000"/><polygon points="493.0,565.0 513.0,584.0 493.0,603.0 473.0,584.0" fill="#008000"/><polygon points="520.9,597.8 540.9,616.8 520.9,635.8 500.9,616.8" fill="#008000"/><polygon points="548.8,622.2 568.8,641.2 548.8,660.2 528.8,641.2" fill="#008000"/><polygon points="576.6,641.8 596.6,660.8 576.6,679.8 556.6,660.8" fill="#008000"/><polygon points="604.5,661.8 624.5,680.8 604.5,699.8 584.5,680.8" fill="#008000"/><polygon points="632.3,677.4 652.3,696.4 632.3,715.4 612.3,696.4" fill="#008000"/><polygon points="660.2,693.9 680.2,712.9 660.2,731.9 640.2,712.9" fill="#008000"/><polygon points="688.1,710.4 708.1,729.4 688.1,748.4 668.1,729.4" fill="#008000"/><polygon points="715.9,721.0 735.9,740.0 715.9,759.0 695.9,740.0" fill="#008000"/><polygon points="743.8,726.6 763.8,745.6 743.8,764.6 723.8,745.6" fill="#008000"/><polygon points="771.6,729.7 791.6,748.7 771.6,767.7 751.6,748.7" fill="#008000"/><polygon points="799.5,741.5 819.5,760.5 799.5,779.5 779.5,760.5" fill="#008000"/><polygon points="827.4,741.5 847.4,760.5 827.4,779.5 807.4,760.5" fill="#008000"/><polygon points="855.2,746.3 875.2,765.3 855.2,784.3 835.2,765.3" fill="#008000"/><polygon points="883.1,746.3 903.1,765.3 883.1,784.3 863.1,765.3" fill="#008000"/><polygon points="910.9,753.8 930.9,772.8 910.9,791.8 890.9,772.8" fill="#008000"/><polygon points="938.8,761.3 958.8,780.3 938.8,799.3 918.8,780.3" fill="#008000"/><polygon points="966.7,770.8 986.7,789.8 966.7,808.8 946.7,789.8" fill="#008000"/><polygon points="994.5,773.5 1014.5,792.5 994.5,811.5 974.5,792.5" fill="#008000"/><polygon points="1022.4,781.0 1042.4,800.0 1022.4,819.0 1002.4,800.0" fill="#008000"/><polygon points="1050.2,790.5 1070.2,809.5 1050.2,828.5 1030.2,809.5" fill="#008000"/><polygon points="1078.1,826.0 1098.1,845.0 1078.1,864.0 1058.1,845.0" fill="#008000"/><polygon points="1106.0,836.0 1126.0,855.0 1106.0,874.0 1086.0,855.0" fill="#008000"/><polygon points="1133.8,849.3 1153.8,868.3 1133.8,887.3 1113.8,868.3" fill="#008000"/><polygon points="1161.7,869.1 1181.7,888.1 1161.7,907.1 1141.7,888.1" fill="#008000"/><polygon points="1189.5,888.8 1209.5,907.8 1189.5,926.8 1169.5,907.8" fill="#008000"/><polygon points="1217.4,912.6 1237.4,931.6 1217.4,950.6 1197.4,931.6" fill="#008000"/><polygon points="1245.3,932.5 1265.3,951.5 1245.3,970.5 1225.3,951.5" fill="#008000"/><polygon points="1273.1,950.0 1293.1,969.0 1273.1,988.0 1253.1,969.0" fill="#008000"/><polygon points="1301.0,971.2 1321.0,990.2 1301.0,1009.2 1281.0,990.2" fill="#008000"/><polygon points="1328.8,979.5 1348.8,998.5 1328.8,1017.5 1308.8,998.5" fill="#008000"/><polygon points="1356.7,994.4 1376.7,1013.4 1356.7,1032.4 1336.7,1013.4" fill="#008000"/><polygon points="1384.6,1005.3 1404.6,1024.3 1384.6,1043.3 1364.6,1024.3" fill="#008000"/><polygon points="1412.4,1016.2 1432.4,1035.2 1412.4,1054.2 1392.4,1035.2" fill="#008000"/><polygon points="1440.3,1024.4 1460.3,1043.4 1440.3,1062.4 1420.3,1043.4" fill="#008000"/><polygon points="1468.1,1033.9 1488.1,1052.9 1468.1,1071.9 1448.1,1052.9" fill="#008000"/><polygon points="1496.0,1043.4 1516.0,1062.4 1496.0,1081.4 1476.0,1062.4" fill="#008000"/><polygon points="1523.9,1052.0 1543.9,1071.0 1523.9,1090.0 1503.9,1071.0" fill="#008000"/><polygon points="1551.7,1062.0 1571.7,1081.0 1551.7,1100.0 1531.7,1081.0" fill="#008000"/><polygon points="1579.6,1067.5 1599.6,1086.5 1579.6,1105.5 1559.6,1086.5" fill="#008000"/><polygon points="1607.4,1072.9 1627.4,1091.9 1607.4,1110.9 1587.4,1091.9" fill="#008000"/><polygon points="1635.3,1081.8 1655.3,1100.8 1635.3,1119.8 1615.3,1100.8" fill="#008000"/><polygon points="1663.2,1083.8 1683.2,1102.8 1663.2,1121.8 1643.2,1102.8" fill="#008000"/><polygon points="1691.0,1087.2 1711.0,1106.2 1691.0,1125.2 1671.0,1106.2" fill="#008000"/><polygon points="1718.9,1091.3 1738.9,1110.3 1718.9,1129.3 1698.9,1110.3" fill="#008000"/><polygon points="1746.7,1094.0 1766.7,1113.0 1746.7,1132.0 1726.7,1113.0" fill="#008000"/><polygon points="1774.6,1096.0 1794.6,1115.0 1774.6,1134.0 1754.6,1115.0" fill="#008000"/><polygon points="1802.5,1098.2 1822.5,1117.2 1802.5,1136.2 1782.5,1117.2" fill="#008000"/><polygon points="1830.3,1100.1 1850.3,1119.1 1830.3,1138.1 1810.3,1119.1" fill="#008000"/><polygon points="1858.2,1102.5 1878.2,1121.5 1858.2,1140.5 1838.2,1121.5" fill="#008000"/><polygon points="1886.0,1103.1 1906.0,1122.1 1886.0,1141.1 1866.0,1122.1" fill="#008000"/><polygon points="1913.9,1105.0 1933.9,1124.0 1913.9,1143.0 1893.9,1124.0" fill="#008000"/><polygon points="1941.8,1106.8 1961.8,1125.8 1941.8,1144.8 1921.8,1125.8" fill="#008000"/><polygon points="1969.6,1100.1 1989.6,1119.1 1969.6,1138.1 1949.6,1119.1" fill="#008000"/><polygon points="1997.5,1103.1 2017.5,1122.1 1997.5,1141.1 1977.5,1122.1" fill="#008000"/><polygon points="2025.3,1111.2 2045.3,1130.2 2025.3,1149.2 2005.3,1130.2" fill="#008000"/><polygon points="2053.2,1122.6 2073.2,1141.6 2053.2,1160.6 2033.2,1141.6" fill="#008000"/><polygon points="2081.1,1146.0 2101.1,1165.0 2081.1,1184.0 2061.1,1165.0" fill="#008000"/><polygon points="2108.9,1184.0 2128.9,1203.0 2108.9,1222.0 2088.9,1203.0" fill="#008000"/><polygon points="2136.8,1239.0 2156.8,1258.0 2136.8,1277.0 2116.8,1258.0" fill="#008000"/><polygon points="2164.6,1365.0 2184.6,1384.0 2164.6,1403.0 2144.6,1384.0" fill="#008000"/></g>
<polyline clip-path="url(#pc)" fill="none" stroke="#000080" stroke-width="2.0" points="242.9,63.4 270.8,107.9 298.6,159.7 326.5,211.5 354.3,257.8 382.2,292.6 410.1,330.3 437.9,377.0 465.8,419.2 493.6,467.0 521.5,508.1 549.4,551.5 577.2,584.5 605.1,622.3 632.9,655.1 660.8,683.6 688.7,707.8 716.5,730.6 744.4,745.2 772.2,754.6 800.1,771.6 828.0,781.8 855.8,786.6 883.7,794.7 911.5,797.4 939.4,809.0 967.3,822.0 995.1,821.0 1023.0,826.7 1050.8,827.6 1078.7,835.7 1106.6,840.5 1134.4,852.7 1162.3,865.7 1190.1,885.4 1218.0,907.2 1245.9,927.1 1273.7,944.1 1301.6,963.8 1329.4,978.8 1357.3,993.8 1385.2,1008.1 1413.0,1020.3 1440.9,1032.6 1468.7,1042.8 1496.6,1052.3 1524.5,1062.1 1552.3,1072.3 1580.2,1079.7 1608.0,1087.2 1635.9,1094.0 1663.8,1099.5 1691.6,1104.2 1719.5,1107.0 1747.3,1109.0 1775.2,1111.5 1803.1,1113.8 1830.9,1113.8 1858.8,1116.2 1886.6,1116.2 1914.5,1118.7 1942.4,1121.1 1970.2,1113.8 1998.1,1116.6 2025.9,1124.0 2053.8,1136.1 2081.7,1158.3 2109.5,1193.2 2137.4,1251.7 2165.2,1372.5"/>
<g><polygon points="219.9,63.4 253.9,44.9 253.9,81.9" fill="#000080"/><polygon points="247.8,107.9 281.8,89.4 281.8,126.4" fill="#000080"/><polygon points="275.6,159.7 309.6,141.2 309.6,178.2" fill="#000080"/><polygon points="303.5,211.5 337.5,193.0 337.5,230.0" fill="#000080"/><polygon points="331.3,257.8 365.3,239.3 365.3,276.3" fill="#000080"/><polygon points="359.2,292.6 393.2,274.1 393.2,311.1" fill="#000080"/><polygon points="387.1,330.3 421.1,311.8 421.1,348.8" fill="#000080"/><polygon points="414.9,377.0 448.9,358.5 448.9,395.5" fill="#000080"/><polygon points="442.8,419.2 476.8,400.7 476.8,437.7" fill="#000080"/><polygon points="470.6,467.0 504.6,448.5 504.6,485.5" fill="#000080"/><polygon points="498.5,508.1 532.5,489.6 532.5,526.6" fill="#000080"/><polygon points="526.4,551.5 560.4,533.0 560.4,570.0" fill="#000080"/><polygon points="554.2,584.5 588.2,566.0 588.2,603.0" fill="#000080"/><polygon points="582.1,622.3 616.1,603.8 616.1,640.8" fill="#000080"/><polygon points="609.9,655.1 643.9,636.6 643.9,673.6" fill="#000080"/><polygon points="637.8,683.6 671.8,665.1 671.8,702.1" fill="#000080"/><polygon points="665.7,707.8 699.7,689.3 699.7,726.3" fill="#000080"/><polygon points="693.5,730.6 727.5,712.1 727.5,749.1" fill="#000080"/><polygon points="721.4,745.2 755.4,726.7 755.4,763.7" fill="#000080"/><polygon points="749.2,754.6 783.2,736.1 783.2,773.1" fill="#000080"/><polygon points="777.1,771.6 811.1,753.1 811.1,790.1" fill="#000080"/><polygon points="805.0,781.8 839.0,763.3 839.0,800.3" fill="#000080"/><polygon points="832.8,786.6 866.8,768.1 866.8,805.1" fill="#000080"/><polygon points="860.7,794.7 894.7,776.2 894.7,813.2" fill="#000080"/><polygon points="888.5,797.4 922.5,778.9 922.5,815.9" fill="#000080"/><polygon points="916.4,809.0 950.4,790.5 950.4,827.5" fill="#000080"/><polygon points="944.3,822.0 978.3,803.5 978.3,840.5" fill="#000080"/><polygon points="972.1,821.0 1006.1,802.5 1006.1,839.5" fill="#000080"/><polygon points="1000.0,826.7 1034.0,808.2 1034.0,845.2" fill="#000080"/><polygon points="1027.8,827.6 1061.8,809.1 1061.8,846.1" fill="#000080"/><polygon points="1055.7,835.7 1089.7,817.2 1089.7,854.2" fill="#000080"/><polygon points="1083.6,840.5 1117.6,822.0 1117.6,859.0" fill="#000080"/><polygon points="1111.4,852.7 1145.4,834.2 1145.4,871.2" fill="#000080"/><polygon points="1139.3,865.7 1173.3,847.2 1173.3,884.2" fill="#000080"/><polygon points="1167.1,885.4 1201.1,866.9 1201.1,903.9" fill="#000080"/><polygon points="1195.0,907.2 1229.0,888.7 1229.0,925.7" fill="#000080"/><polygon points="1222.9,927.1 1256.9,908.6 1256.9,945.6" fill="#000080"/><polygon points="1250.7,944.1 1284.7,925.6 1284.7,962.6" fill="#000080"/><polygon points="1278.6,963.8 1312.6,945.3 1312.6,982.3" fill="#000080"/><polygon points="1306.4,978.8 1340.4,960.3 1340.4,997.3" fill="#000080"/><polygon points="1334.3,993.8 1368.3,975.3 1368.3,1012.3" fill="#000080"/><polygon points="1362.2,1008.1 1396.2,989.6 1396.2,1026.6" fill="#000080"/><polygon points="1390.0,1020.3 1424.0,1001.8 1424.0,1038.8" fill="#000080"/><polygon points="1417.9,1032.6 1451.9,1014.1 1451.9,1051.1" fill="#000080"/><polygon points="1445.7,1042.8 1479.7,1024.3 1479.7,1061.3" fill="#000080"/><polygon points="1473.6,1052.3 1507.6,1033.8 1507.6,1070.8" fill="#000080"/><polygon points="1501.5,1062.1 1535.5,1043.6 1535.5,1080.6" fill="#000080"/><polygon points="1529.3,1072.3 1563.3,1053.8 1563.3,1090.8" fill="#000080"/><polygon points="1557.2,1079.7 1591.2,1061.2 1591.2,1098.2" fill="#000080"/><polygon points="1585.0,1087.2 1619.0,1068.7 1619.0,1105.7" fill="#000080"/><polygon points="1612.9,1094.0 1646.9,1075.5 1646.9,1112.5" fill="#000080"/><polygon points="1640.8,1099.5 1674.8,1081.0 1674.8,1118.0" fill="#000080"/><polygon points="1668.6,1104.2 1702.6,1085.7 1702.6,1122.7" fill="#000080"/><polygon points="1696.5,1107.0 1730.5,1088.5 1730.5,1125.5" fill="#000080"/><polygon points="1724.3,1109.0 1758.3,1090.5 1758.3,1127.5" fill="#000080"/><polygon points="1752.2,1111.5 1786.2,1093.0 1786.2,1130.0" fill="#000080"/><polygon points="1780.1,1113.8 1814.1,1095.3 1814.1,1132.3" fill="#000080"/><polygon points="1807.9,1113.8 1841.9,1095.3 1841.9,1132.3" fill="#000080"/><polygon points="1835.8,1116.2 1869.8,1097.7 1869.8,1134.7" fill="#000080"/><polygon points="1863.6,1116.2 1897.6,1097.7 1897.6,1134.7" fill="#000080"/><polygon points="1891.5,1118.7 1925.5,1100.2 1925.5,1137.2" fill="#000080"/><polygon points="1919.4,1121.1 1953.4,1102.6 1953.4,1139.6" fill="#000080"/><polygon points="1947.2,1113.8 1981.2,1095.3 1981.2,1132.3" fill="#000080"/><polygon points="1975.1,1116.6 2009.1,1098.1 2009.1,1135.1" fill="#000080"/><polygon points="2002.9,1124.0 2036.9,1105.5 2036.9,1142.5" fill="#000080"/><polygon points="2030.8,1136.1 2064.8,1117.6 2064.8,1154.6" fill="#000080"/><polygon points="2058.7,1158.3 2092.7,1139.8 2092.7,1176.8" fill="#000080"/><polygon points="2086.5,1193.2 2120.5,1174.7 2120.5,1211.7" fill="#000080"/><polygon points="2114.4,1251.7 2148.4,1233.2 2148.4,1270.2" fill="#000080"/><polygon points="2142.2,1372.5 2176.2,1354.0 2176.2,1391.0" fill="#000080"/></g>
<g fill="#000"><text x="85.5" y="1417.0" font-family="Liberation Sans, Arial, sans-serif" font-weight="bold" font-size="70.5">10</text><text x="166.5" y="1389.9" font-family="Liberation Sans, Arial, sans-serif" font-weight="bold" font-size="50">0</text><text x="85.5" y="1117.0" font-family="Liberation Sans, Arial, sans-serif" font-weight="bold" font-size="70.5">10</text><text x="166.5" y="1089.9" font-family="Liberation Sans, Arial, sans-serif" font-weight="bold" font-size="50">1</text><text x="85.5" y="814.4" font-family="Liberation Sans, Arial, sans-serif" font-weight="bold" font-size="70.5">10</text><text x="166.5" y="787.3" font-family="Liberation Sans, Arial, sans-serif" font-weight="bold" font-size="50">2</text><text x="85.5" y="514.7" font-family="Liberation Sans, Arial, sans-serif" font-weight="bold" font-size="70.5">10</text><text x="166.5" y="487.6" font-family="Liberation Sans, Arial, sans-serif" font-weight="bold" font-size="50">3</text><text x="85.5" y="212.2" font-family="Liberation Sans, Arial, sans-serif" font-weight="bold" font-size="70.5">10</text><text x="166.5" y="185.1" font-family="Liberation Sans, Arial, sans-serif" font-weight="bold" font-size="50">4</text><text x="186.3" y="1500.3" font-family="Liberation Sans, Arial, sans-serif" font-weight="bold" font-size="70.5" letter-spacing="1.5">10</text><text x="268.9" y="1473.7" font-family="Liberation Sans, Arial, sans-serif" font-weight="bold" font-size="50.5">0</text><text x="466.0" y="1500.3" font-family="Liberation Sans, Arial, sans-serif" font-weight="bold" font-size="70.5" letter-spacing="0.3">10</text><text x="544.9" y="1473.7" font-family="Liberation Sans, Arial, sans-serif" font-weight="bold" font-size="50.5">1</text><text x="745.2" y="1500.3" font-family="Liberation Sans, Arial, sans-serif" font-weight="bold" font-size="70.5" letter-spacing="-2.1">10</text><text x="823.0" y="1473.7" font-family="Liberation Sans, Arial, sans-serif" font-weight="bold" font-size="50.5">2</text><text x="1022.2" y="1500.3" font-family="Liberation Sans, Arial, sans-serif" font-weight="bold" font-size="70.5" letter-spacing="0.0">10</text><text x="1105.2" y="1473.7" font-family="Liberation Sans, Arial, sans-serif" font-weight="bold" font-size="50.5">3</text><text x="1301.3" y="1500.3" font-family="Liberation Sans, Arial, sans-serif" font-weight="bold" font-size="70.5" letter-spacing="1.5">10</text><text x="1380.1" y="1473.7" font-family="Liberation Sans, Arial, sans-serif" font-weight="bold" font-size="50.5">4</text><text x="1581.0" y="1500.3" font-family="Liberation Sans, Arial, sans-serif" font-weight="bold" font-size="70.5" letter-spacing="-2.4">10</text><text x="1660.9" y="1473.7" font-family="Liberation Sans, Arial, sans-serif" font-weight="bold" font-size="50.5">5</text><text x="1858.1" y="1500.3" font-family="Liberation Sans, Arial, sans-serif" font-weight="bold" font-size="70.5" letter-spacing="0.9">10</text><text x="1940.3" y="1473.7" font-family="Liberation Sans, Arial, sans-serif" font-weight="bold" font-size="50.5">6</text></g>
<text x="924.9" y="1601.8" font-family="Liberation Sans, Arial, sans-serif" font-weight="bold" font-size="71" letter-spacing="1.08">Frequncy (Hz)</text>
<text x="0" y="0" font-family="Liberation Sans, Arial, sans-serif" font-size="94" transform="translate(17.6,730) scale(1.265,1)">ε</text>
<text x="0" y="0" font-family="Liberation Sans, Arial, sans-serif" font-weight="bold" font-size="118" transform="translate(67,731.5) scale(1.12,1)">'</text>
<rect x="1435.4" y="65.4" width="648" height="546.1" fill="none" stroke="#000" stroke-width="2.2"/>
<line x1="1471" y1="132.5" x2="1634" y2="132.5" stroke="#000000" stroke-width="2.7"/>
<rect x="1538.4" y="119.0" width="28.6" height="27" fill="#000000"/>
<text x="1656" y="155.9" font-family="Liberation Sans, Arial, sans-serif" font-size="70" textLength="27.5" lengthAdjust="spacingAndGlyphs">ε</text>
<text x="1687" y="157.9" font-family="DejaVu Sans, sans-serif" font-size="47" textLength="44" lengthAdjust="spacingAndGlyphs">⊥</text>
<text x="1756.6" y="155.9" font-family="Liberation Sans, Arial, sans-serif" font-weight="bold" font-size="70.5" letter-spacing="1.25">at 104 °C</text>
<line x1="1471" y1="220.5" x2="1634" y2="220.5" stroke="#e00000" stroke-width="2.7"/>
<circle cx="1552.8" cy="220.5" r="16.6" fill="#ff0000"/>
<text x="1656" y="243.6" font-family="Liberation Sans, Arial, sans-serif" font-size="70" textLength="27.5" lengthAdjust="spacingAndGlyphs">ε</text>
<text x="1687" y="245.6" font-family="DejaVu Sans, sans-serif" font-size="47" textLength="44" lengthAdjust="spacingAndGlyphs">⊥</text>
<text x="1756.6" y="243.6" font-family="Liberation Sans, Arial, sans-serif" font-weight="bold" font-size="70.5" letter-spacing="1.25">at 108 °C</text>
<line x1="1471" y1="308.5" x2="1634" y2="308.5" stroke="#1010a0" stroke-width="2.7"/>
<polygon points="1554.0,285.5 1574.5,319.5 1533.5,319.5" fill="#0000ff"/>
<text x="1656" y="331.2" font-family="Liberation Sans, Arial, sans-serif" font-size="70" textLength="27.5" lengthAdjust="spacingAndGlyphs">ε</text>
<text x="1687" y="333.2" font-family="DejaVu Sans, sans-serif" font-size="47" textLength="44" lengthAdjust="spacingAndGlyphs">⊥</text>
<text x="1756.6" y="331.2" font-family="Liberation Sans, Arial, sans-serif" font-weight="bold" font-size="70.5" letter-spacing="1.76">at 112°C</text>
<line x1="1471" y1="396.5" x2="1634" y2="396.5" stroke="#d010c0" stroke-width="2.7"/>
<polygon points="1534.2,385.5 1574.2,385.5 1554.2,419.5" fill="#ff00ff"/>
<text x="1656" y="418.9" font-family="Liberation Sans, Arial, sans-serif" font-size="70" textLength="27.5" lengthAdjust="spacingAndGlyphs">ε</text>
<text x="1685.5" y="420.9" font-family="Liberation Sans, Arial, sans-serif" font-size="54" textLength="25" lengthAdjust="spacingAndGlyphs">‖</text>
<text x="1735.8" y="418.9" font-family="Liberation Sans, Arial, sans-serif" font-weight="bold" font-size="70.5" letter-spacing="0.86">at 104 °C</text>
<line x1="1471" y1="484.5" x2="1634" y2="484.5" stroke="#007000" stroke-width="2.7"/>
<polygon points="1554.2,465.9 1572.7,485.2 1554.2,504.5 1535.7,485.2" fill="#008000"/>
<text x="1656" y="506.6" font-family="Liberation Sans, Arial, sans-serif" font-size="70" textLength="27.5" lengthAdjust="spacingAndGlyphs">ε</text>
<text x="1685.5" y="508.6" font-family="Liberation Sans, Arial, sans-serif" font-size="54" textLength="25" lengthAdjust="spacingAndGlyphs">‖</text>
<text x="1735.8" y="506.6" font-family="Liberation Sans, Arial, sans-serif" font-weight="bold" font-size="70.5" letter-spacing="1.20">at 108°C</text>
<line x1="1471" y1="572.5" x2="1634" y2="572.5" stroke="#000080" stroke-width="2.7"/>
<polygon points="1532.6,572.5 1566.6,554.0 1566.6,591.0" fill="#000080"/>
<text x="1656" y="594.2" font-family="Liberation Sans, Arial, sans-serif" font-size="70" textLength="27.5" lengthAdjust="spacingAndGlyphs">ε</text>
<text x="1685.5" y="596.2" font-family="Liberation Sans, Arial, sans-serif" font-size="54" textLength="25" lengthAdjust="spacingAndGlyphs">‖</text>
<text x="1735.8" y="594.2" font-family="Liberation Sans, Arial, sans-serif" font-weight="bold" font-size="70.5" letter-spacing="1.77">at 112°C</text>
</svg></body></html>
